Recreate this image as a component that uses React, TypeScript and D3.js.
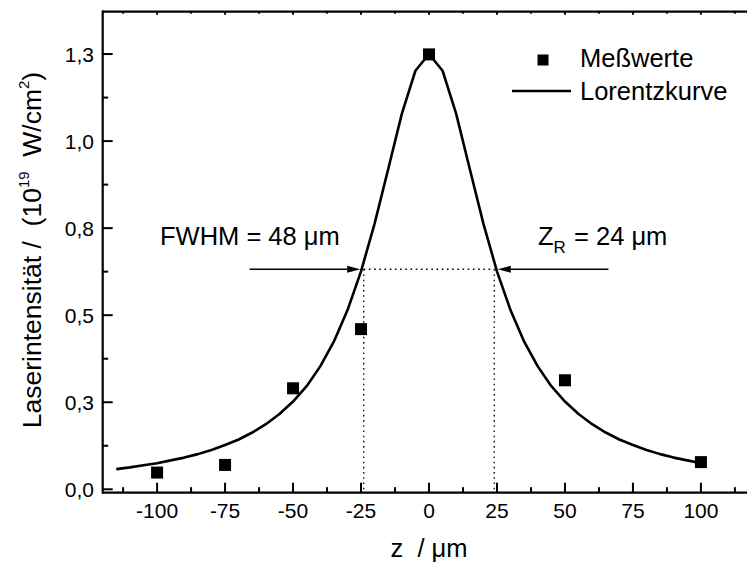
import React from "react";
import * as d3 from "d3";

// ---- data ----
const measZ = [-100, -75, -50, -25, 0, 50, 100];
const measI = [0.048, 0.07, 0.29, 0.46, 1.249, 0.313, 0.078];

const curveZ = [
  -115, -110, -105, -100, -95, -90, -85, -80, -75, -70, -65, -60, -55, -50, -45, -40, -35, -30, -25, -20, -15, -10, -5, 0,
  5, 10, 15, 20, 25, 30, 35, 40, 45, 50, 55, 60, 65, 70, 75, 80, 85, 90, 95, 100,
];
const curveI = [
  0.058, 0.063, 0.069, 0.075, 0.083, 0.091, 0.101, 0.113, 0.127, 0.143, 0.163, 0.187, 0.216, 0.252, 0.296, 0.353, 0.424,
  0.514, 0.626, 0.763, 0.92, 1.078, 1.202, 1.25, 1.202, 1.078, 0.92, 0.763, 0.626, 0.514, 0.424, 0.353, 0.296, 0.252,
  0.216, 0.187, 0.163, 0.143, 0.127, 0.113, 0.101, 0.091, 0.083, 0.075,
];

const xTicks = [-100, -75, -50, -25, 0, 25, 50, 75, 100];
const xTickLabels = ["-100", "-75", "-50", "-25", "0", "25", "50", "75", "100"];
const yTicks = [0, 0.25, 0.5, 0.75, 1.0, 1.25];
const yTickLabels = ["0,0", "0,3", "0,5", "0,8", "1,0", "1,3"];

const zR = 24;
const halfMax = 0.632;
const arrowTailZ = 66;
const arrowTipZ = 25.3;

const W = 747;
const H = 564;
const font = "'Liberation Sans', Arial, Helvetica, sans-serif";

export default function App() {
  const x = d3.scaleLinear().domain([-120, 120]).range([102.7, 755.3]);
  const y = d3.scaleLinear().domain([-0.0098, 1.3716]).range([492.7, 11.7]);
  const [x0, x1] = x.range();
  const [yb, yt] = y.range();

  const xMinor = d3.range(-112.5, 120, 12.5).filter((v) => !xTicks.includes(v));
  const yMinor = d3.range(0.125, 1.37, 0.25);

  const line = d3
    .line<number>()
    .x((_, i) => x(curveZ[i]))
    .y((d) => y(d))
    .curve(d3.curveLinear);

  const sq = 12;
  const hy = y(halfMax);

  const arrow = (tail: number, tip: number) => {
    const xt = x(tail);
    const xp = x(tip);
    const dir = Math.sign(xp - xt);
    const hl = 13;
    const hw = 3.5;
    return (
      <g>
        <line x1={xt} y1={hy} x2={xp - dir * hl} y2={hy} stroke="#000" strokeWidth={1.5} />
        <polygon
          points={`${xp},${hy} ${xp - dir * hl},${hy - hw} ${xp - dir * hl},${hy + hw}`}
          fill="#000"
        />
      </g>
    );
  };

  return (
    <svg
      width={W}
      height={H}
      style={{ position: "absolute", left: 0, top: 0, background: "#fff" }}
      fontFamily={font}
    >
      <rect x={0} y={0} width={W} height={H} fill="#fff" />

      {/* dotted guides */}
      <g stroke="#000" strokeWidth={1.3} strokeDasharray="1.6,3.6" fill="none">
        <line x1={x(-zR)} y1={hy} x2={x(zR)} y2={hy} />
        <line x1={x(-zR)} y1={hy} x2={x(-zR)} y2={yb} />
        <line x1={x(zR)} y1={hy} x2={x(zR)} y2={yb} />
      </g>

      {/* curve */}
      <path d={line(curveI) || ""} fill="none" stroke="#000" strokeWidth={2.6} strokeLinejoin="round" />

      {/* points */}
      {measZ.map((z, i) => (
        <rect key={i} x={x(z) - sq / 2} y={y(measI[i]) - sq / 2} width={sq} height={sq} fill="#000" />
      ))}

      {/* arrows */}
      {arrow(-arrowTailZ, -arrowTipZ)}
      {arrow(arrowTailZ, arrowTipZ)}

      {/* annotations */}
      <text x={160} y={245} fontSize={25.5} fill="#000">
        FWHM = 48 μm
      </text>
      <text x={538} y={245} fontSize={25.5} fill="#000" style={{ whiteSpace: "pre" }}>
        Z
        <tspan fontSize={17} dy={8}>
          R
        </tspan>
        <tspan x={574} dy={-8}>{"= 24 μm"}</tspan>
      </text>

      {/* axes frame */}
      <g stroke="#000" strokeWidth={2.2} fill="none">
        <line x1={x0} y1={yb} x2={x1} y2={yb} />
        <line x1={x0} y1={yt} x2={x1} y2={yt} />
        <line x1={x0} y1={yb + 1.1} x2={x0} y2={yt - 1.1} />
      </g>

      {/* ticks */}
      <g stroke="#000" strokeWidth={2}>
        {xTicks.map((t) => (
          <line key={"xb" + t} x1={x(t)} x2={x(t)} y1={yb} y2={yb - 10} />
        ))}
        {xMinor.map((t) => (
          <line key={"xbm" + t} x1={x(t)} x2={x(t)} y1={yb} y2={yb - 5.5} />
        ))}
        {xTicks.map((t) => (
          <line key={"xt" + t} x1={x(t)} x2={x(t)} y1={yt} y2={yt + 3} />
        ))}
        {xMinor.map((t) => (
          <line key={"xtm" + t} x1={x(t)} x2={x(t)} y1={yt} y2={yt + 2} />
        ))}
        {yTicks.map((t) => (
          <line key={"y" + t} x1={x0} x2={x0 + 10} y1={y(t)} y2={y(t)} />
        ))}
        {yMinor.map((t) => (
          <line key={"ym" + t} x1={x0} x2={x0 + 5.5} y1={y(t)} y2={y(t)} />
        ))}
      </g>

      {/* tick labels */}
      <g fontSize={21} fill="#000">
        {xTicks.map((t, i) => (
          <text key={t} x={x(t)} y={518} textAnchor="middle">
            {xTickLabels[i]}
          </text>
        ))}
        {yTicks.map((t, i) => (
          <text key={t} x={94} y={y(t)} dy="0.36em" textAnchor="end">
            {yTickLabels[i]}
          </text>
        ))}
      </g>

      {/* axis titles */}
      <text x={429} y={557} fontSize={25.5} textAnchor="middle" fill="#000" style={{ whiteSpace: "pre" }}>
        {"z  / μm"}
      </text>
      <text
        transform="translate(41,250) rotate(-90)"
        fontSize={26.5}
        textAnchor="middle"
        fill="#000"
        style={{ whiteSpace: "pre" }}
      >
        {"Laserintensität /  (10"}
        <tspan fontSize={15} dy={-12}>
          19
        </tspan>
        <tspan dy={12}>{"  W/cm"}</tspan>
        <tspan fontSize={15} dy={-12}>
          2
        </tspan>
        <tspan dy={12}>)</tspan>
      </text>

      {/* legend */}
      <rect x={543 - 5.5} y={60 - 5.5} width={11} height={11} fill="#000" />
      <text x={580} y={67} fontSize={25.5} fill="#000">
        Meßwerte
      </text>
      <line x1={512} x2={571} y1={91} y2={91} stroke="#000" strokeWidth={2.6} />
      <text x={580} y={100} fontSize={25.5} fill="#000">
        Lorentzkurve
      </text>
    </svg>
  );
}
